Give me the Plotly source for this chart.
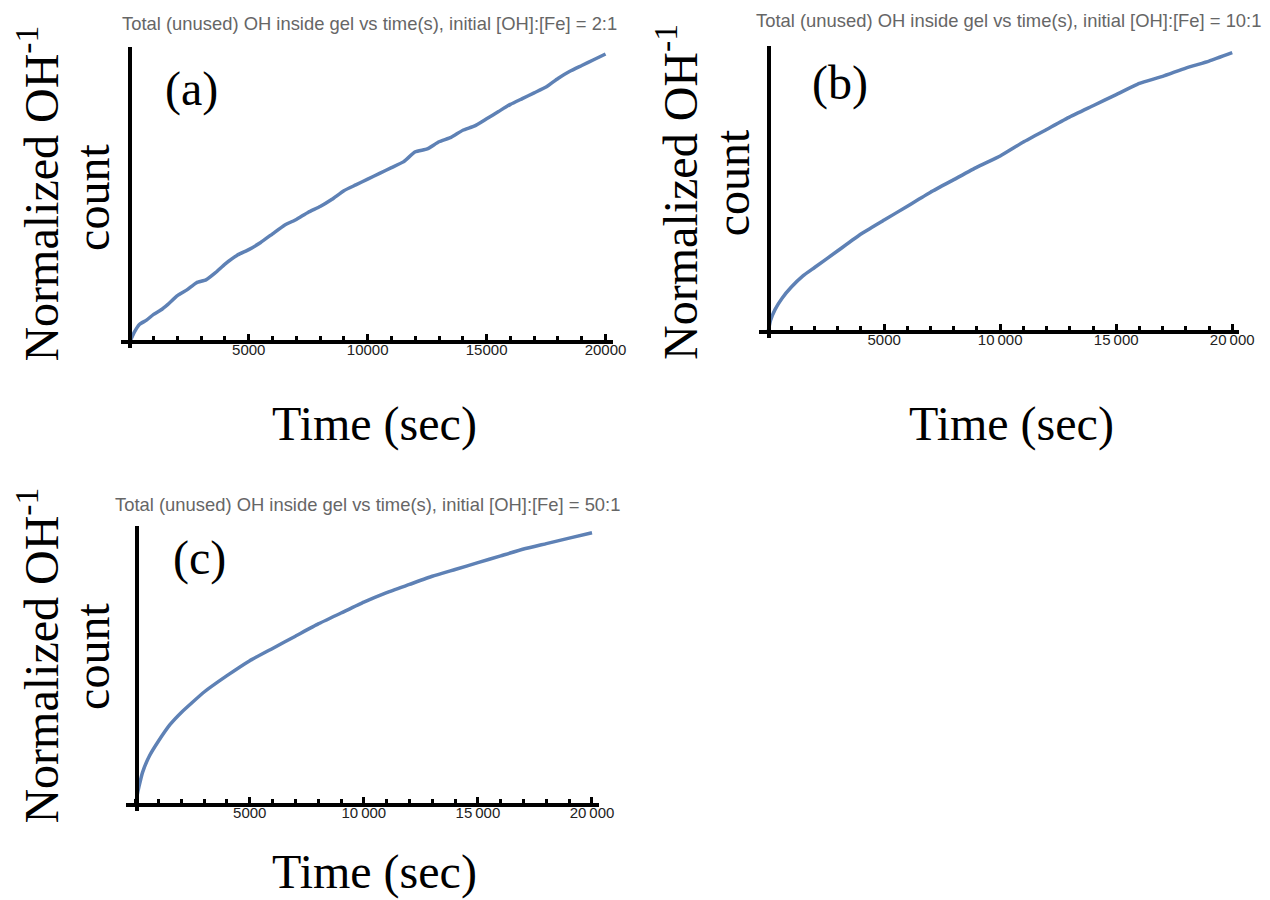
import plotly.graph_objects as go

# ---------------- data ----------------
time_a = [0, 200, 400, 700, 1000, 1300, 1600, 2000, 2400, 2800, 3200, 3600, 4000, 4500,
          5000, 5500, 6000, 6500, 7000, 7500, 8000, 8500, 9000, 9500, 10000, 10500, 11000,
          11500, 12000, 12500, 13000, 13500, 14000, 14500, 15000, 15500, 16000, 16500,
          17000, 17500, 18000, 18500, 19000, 19500, 20000]
oh_a = [0, 0.035, 0.06, 0.075, 0.095, 0.11, 0.13, 0.16, 0.18, 0.205, 0.215, 0.24, 0.27, 0.30,
        0.32, 0.345, 0.375, 0.405, 0.425, 0.45, 0.47, 0.495, 0.525, 0.545, 0.565, 0.585, 0.605,
        0.625, 0.66, 0.67, 0.695, 0.71, 0.735, 0.75, 0.775, 0.80, 0.825, 0.845,
        0.865, 0.885, 0.915, 0.94, 0.96, 0.98, 1.0]

time_b = [0, 100, 300, 600, 1000, 1500, 2000, 3000, 4000, 5000, 6000, 7000, 8000, 9000,
          10000, 11000, 12000, 13000, 14000, 15000, 16000, 17000, 18000, 19000, 20000]
oh_b = [0, 0.04, 0.08, 0.12, 0.16, 0.20, 0.23, 0.29, 0.35, 0.40, 0.45, 0.50, 0.545, 0.59,
        0.63, 0.68, 0.725, 0.77, 0.81, 0.85, 0.89, 0.915, 0.945, 0.97, 1.0]

time_c = [0, 50, 150, 300, 600, 1000, 1500, 2000, 3000, 4000, 5000, 6000, 7000, 8000, 9000,
          10000, 11000, 12000, 13000, 14000, 15000, 16000, 17000, 18000, 19000, 20000]
oh_c = [0, 0.03, 0.07, 0.12, 0.18, 0.235, 0.295, 0.34, 0.415, 0.475, 0.53, 0.575, 0.62, 0.665,
        0.705, 0.745, 0.78, 0.81, 0.84, 0.865, 0.89, 0.915, 0.94, 0.96, 0.98, 1.0]

titles = ["Total (unused) OH inside gel vs time(s), initial [OH]:[Fe] = 2:1",
          "Total (unused) OH inside gel vs time(s), initial [OH]:[Fe] = 10:1",
          "Total (unused) OH inside gel vs time(s), initial [OH]:[Fe] = 50:1"]
panel_labels = ["(a)", "(b)", "(c)"]
tick_vals = [5000, 10000, 15000, 20000]
tick_text_a = ["5000", "10000", "15000", "20000"]
tick_text_bc = ["5000", "10\u2009000", "15\u2009000", "20\u2009000"]

# ---------------- layout helpers ----------------
W, H = 1270, 900
def px(x):
    return x / W
def py(y):
    return 1 - y / H

LINE = "#5E81B5"
SERIF = "Liberation Serif, Times New Roman, serif"
SANS = "Liberation Sans, Arial, sans-serif"

# panel geometry in pixels: plot box (l, r, t, b), origin (x0, y0), data ranges
panels = [
    dict(l=122, r=620, t=47, b=348, x0=131.4, y0=341.7, xr=[-391, 20300], yr=[-0.0219, 1.0243],
         ticks=tick_text_a, title_xy=(374, 23), lab_xy=(194, 89), xt_xy=(379, 424),
         yl1=(38, 194), yl2=(93, 197)),
    dict(l=768, r=1254, t=46, b=338, x0=778.3, y0=331.7, xr=[-398, 20300], yr=[-0.0226, 1.024],
         ticks=tick_text_bc, title_xy=(1021, 21), lab_xy=(850, 83), xt_xy=(1024, 424),
         yl1=(685, 192), yl2=(741, 183)),
    dict(l=128, r=606, t=526, b=811, x0=138.3, y0=805, xr=[-404, 20300], yr=[-0.022, 1.0246],
         ticks=tick_text_bc, title_xy=(372, 504), lab_xy=(202, 558), xt_xy=(379, 872),
         yl1=(38, 656), yl2=(93, 656)),
]

series = [(time_a, oh_a), (time_b, oh_b), (time_c, oh_c)]

fig = go.Figure()
layout = dict(width=W, height=H, margin=dict(l=0, r=0, t=0, b=0),
              paper_bgcolor="white", plot_bgcolor="white", showlegend=False)
annotations = []

for i, (p, (tx, ty)) in enumerate(zip(panels, series)):
    n = "" if i == 0 else str(i + 1)
    fig.add_trace(go.Scatter(x=tx, y=ty, mode="lines", xaxis="x" + n, yaxis="y" + n,
                             line=dict(color=LINE, width=3.5, shape="spline", smoothing=0.4),
                             hoverinfo="skip"))
    layout["xaxis" + n] = dict(
        domain=[px(p["l"]), px(p["r"])], range=p["xr"], anchor="free", position=py(p["y0"]),
        showline=True, linecolor="black", linewidth=4, showgrid=False, zeroline=False,
        tickmode="array", tickvals=tick_vals, ticktext=p["ticks"],
        ticks="inside", ticklen=6, tickwidth=3, tickcolor="black",
        minor=dict(dtick=1000, tick0=0, ticks="inside", ticklen=4, tickwidth=3, tickcolor="black"),
        tickfont=dict(family=SANS, size=15, color="#222222"),
        ticklabelstandoff=-7,
    )
    layout["yaxis" + n] = dict(
        domain=[py(p["b"]), py(p["t"])], range=p["yr"], anchor="free", position=px(p["x0"]),
        showline=True, linecolor="black", linewidth=4, showgrid=False, zeroline=False,
        showticklabels=False, ticks="",
    )
    annotations += [
        dict(text=titles[i], x=px(p["title_xy"][0]), y=py(p["title_xy"][1]), xref="paper",
             yref="paper", xanchor="center", yanchor="middle", showarrow=False,
             font=dict(family=SANS, size=18.4, color="#666666")),
        dict(text=panel_labels[i], x=px(p["lab_xy"][0]), y=py(p["lab_xy"][1]), xref="paper",
             yref="paper", xanchor="center", yanchor="middle", showarrow=False,
             font=dict(family=SERIF, size=48, color="black")),
        dict(text="Time (sec)", x=px(p["xt_xy"][0]), y=py(p["xt_xy"][1]), xref="paper",
             yref="paper", xanchor="center", yanchor="middle", showarrow=False,
             font=dict(family=SERIF, size=48, color="black")),
        dict(text="Normalized OH<sup>-1</sup>", x=px(p["yl1"][0]), y=py(p["yl1"][1]),
             xref="paper", yref="paper", xanchor="center", yanchor="middle", textangle=-90,
             showarrow=False, font=dict(family=SERIF, size=48, color="black")),
        dict(text="count", x=px(p["yl2"][0]), y=py(p["yl2"][1]), xref="paper", yref="paper",
             xanchor="center", yanchor="middle", textangle=-90, showarrow=False,
             font=dict(family=SERIF, size=48, color="black")),
    ]

layout["annotations"] = annotations
fig.update_layout(**layout)
fig.write_html("out.html", config={"displayModeBar": False},
               post_script="document.body.style.margin='0';document.body.style.overflow='hidden';")
